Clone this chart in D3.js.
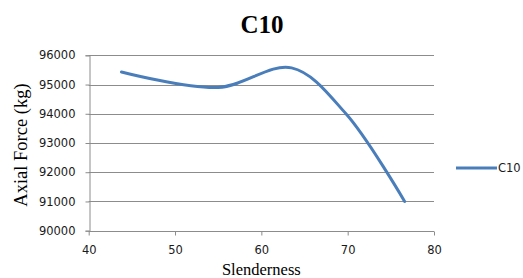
<!DOCTYPE html>
<html>
<head>
<meta charset="utf-8">
<script src="https://cdn.jsdelivr.net/npm/d3@7"></script>
<style>
  body { margin: 0; background: #fff; }
</style>
</head>
<body>
<div id="chart"></div>
<script>
// values
const slenderness = [43.8, 55, 63.5, 69.8, 76.6];
const axialForce = [95430, 94900, 95570, 94000, 91000];
const xTicks = [40, 50, 60, 70, 80];
const yTicks = [90000, 91000, 92000, 93000, 94000, 95000, 96000];
const seriesName = "C10";

const width = 523, height = 278;
const margin = {left: 88.7, right: 89, top: 55.3, bottom: 47.3};

const svg = d3.select("#chart").append("svg")
    .attr("width", width)
    .attr("height", height);

const x = d3.scaleLinear().domain([40, 80]).range([margin.left, width - margin.right]);
const y = d3.scaleLinear().domain([90000, 96000]).range([height - margin.bottom, margin.top]);

// gridlines
svg.append("g")
    .selectAll("line")
    .data(yTicks.slice(1))
    .join("line")
    .attr("x1", x(40)).attr("x2", x(80))
    .attr("y1", d => Math.round(y(d)) + 0.5).attr("y2", d => Math.round(y(d)) + 0.5)
    .attr("stroke", "#8c8c8c").attr("stroke-width", 1);

// y axis
const yAxis = svg.append("g")
    .attr("transform", `translate(${Math.round(x(40)) + 0.5},0)`)
    .call(d3.axisLeft(y).tickValues(yTicks).tickSize(4).tickPadding(10).tickFormat(d3.format("d")));
yAxis.selectAll("path, line").attr("stroke", "#8c8c8c");
yAxis.selectAll("text")
    .attr("font-family", "DejaVu Sans, Verdana, sans-serif")
    .attr("font-size", "11.5px")
    .attr("fill", "#1a1a1a");

// x axis
const xAxis = svg.append("g")
    .attr("transform", `translate(0,${Math.round(y(90000)) + 0.5})`)
    .call(d3.axisBottom(x).tickValues(xTicks).tickSize(4).tickPadding(10));
xAxis.select(".domain").attr("d", `M${x(40)},0H${x(80)}`);
xAxis.selectAll("path, line").attr("stroke", "#8c8c8c");
xAxis.selectAll("text")
    .attr("font-family", "DejaVu Sans, Verdana, sans-serif")
    .attr("font-size", "11.5px")
    .attr("fill", "#1a1a1a");

// series line
const pts = slenderness.map((s, i) => [s, axialForce[i]]);
const line = d3.line()
    .x(d => x(d[0]))
    .y(d => y(d[1]))
    .curve(d3.curveCatmullRom.alpha(0.5));

svg.append("path")
    .datum(pts)
    .attr("fill", "none")
    .attr("stroke", "#4a7ebb")
    .attr("stroke-width", 3)
    .attr("stroke-linecap", "round")
    .attr("d", line);

// title
svg.append("text")
    .attr("x", 262).attr("y", 33)
    .attr("text-anchor", "middle")
    .attr("font-family", "Liberation Serif, Times New Roman, serif")
    .attr("font-weight", "bold")
    .attr("font-size", "25px")
    .text(seriesName);

// axis titles
svg.append("text")
    .attr("transform", "translate(27,145) rotate(-90)")
    .attr("text-anchor", "middle")
    .attr("font-family", "Liberation Serif, Times New Roman, serif")
    .attr("font-size", "18.5px")
    .text("Axial  Force (kg)");

svg.append("text")
    .attr("x", x(60)).attr("y", 275)
    .attr("text-anchor", "middle")
    .attr("font-family", "Liberation Serif, Times New Roman, serif")
    .attr("font-size", "16.5px")
    .text("Slenderness");

// legend
const legend = svg.append("g").attr("transform", "translate(456,168)");
legend.append("line")
    .attr("x1", 0).attr("x2", 41)
    .attr("stroke", "#4a7ebb").attr("stroke-width", 3);
legend.append("text")
    .attr("x", 42).attr("dy", "0.35em")
    .attr("font-family", "DejaVu Sans, Verdana, sans-serif")
    .attr("font-size", "11.5px")
    .attr("fill", "#1a1a1a")
    .text(seriesName);
</script>
</body>
</html>
